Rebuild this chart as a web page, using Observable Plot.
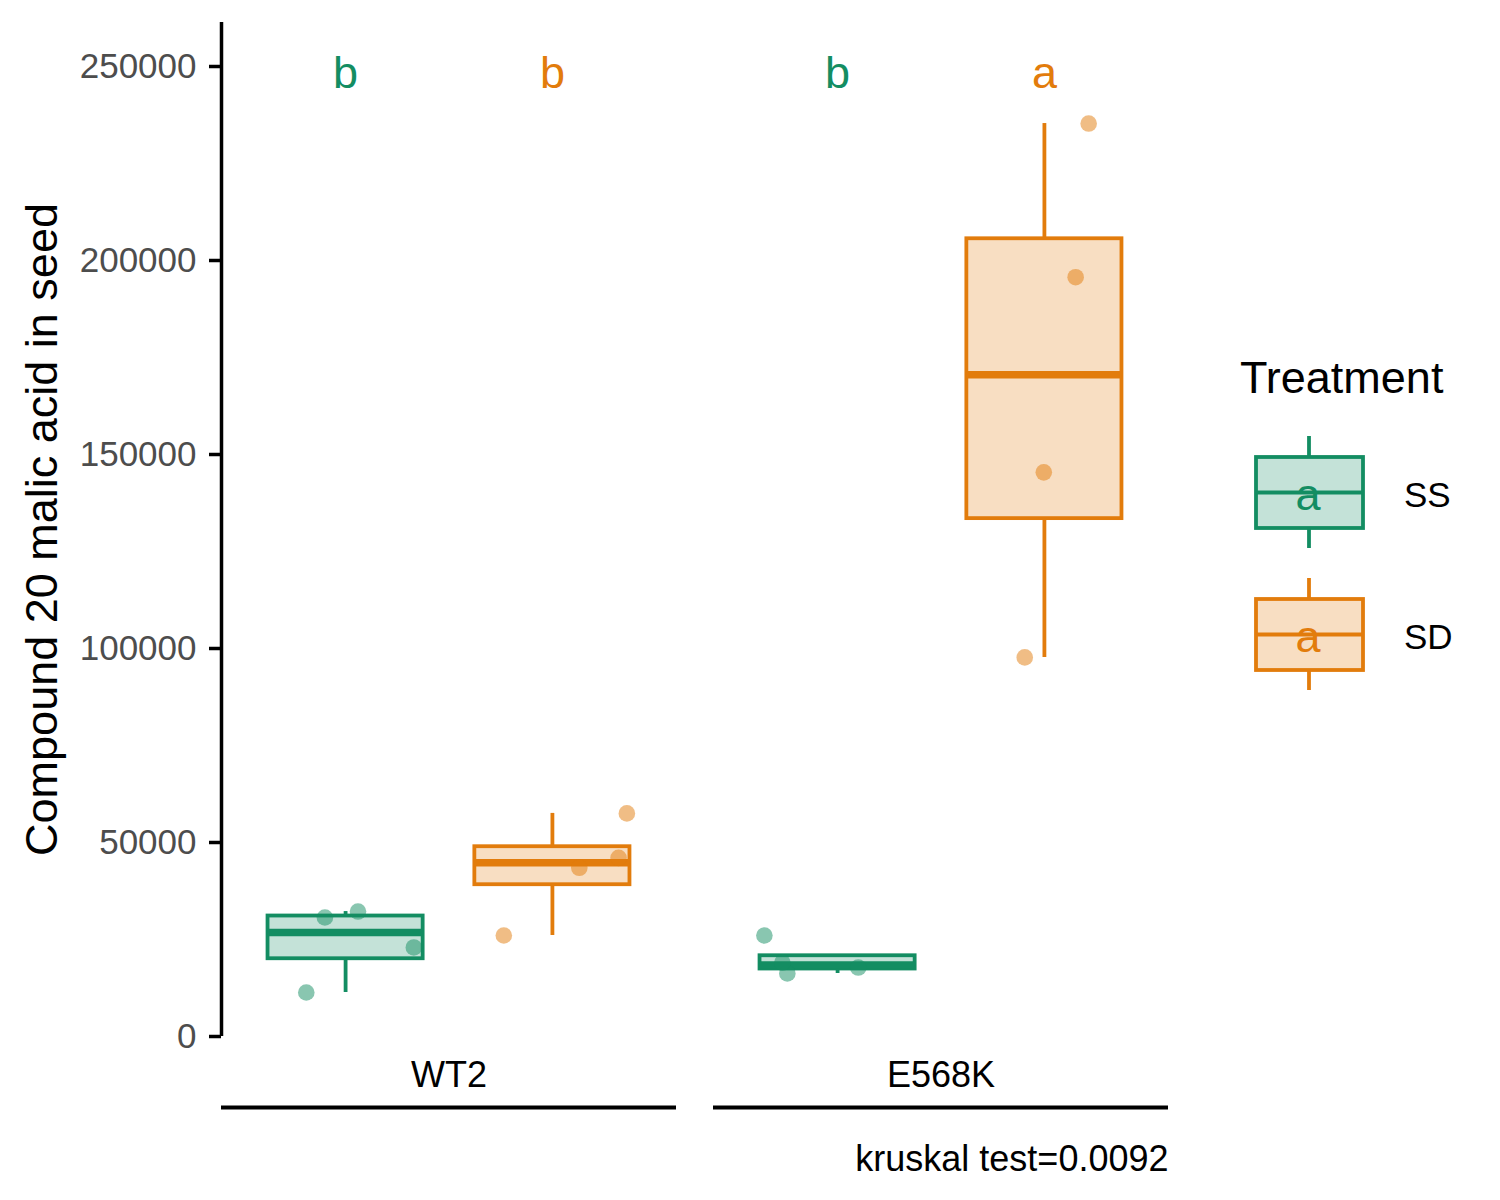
<!DOCTYPE html>
<html>
<head>
<meta charset="utf-8">
<script src="https://cdn.jsdelivr.net/npm/d3@7"></script>
<script src="https://cdn.jsdelivr.net/npm/@observablehq/plot@0.6"></script>
<style>
  html, body { margin: 0; padding: 0; background: white; }
  #wrap { position: relative; width: 1500px; height: 1200px; font-family: "Liberation Sans", Arial, sans-serif; }
  #legend { position: absolute; left: 1220px; top: 340px; }
</style>
</head>
<body>
<div id="wrap"></div>
<script>
// ---- data ----
const genotypes = ["WT2", "E568K"];
const treatments = ["SS", "SD"];
const colors = ["#138D62", "#E27C0C"];
const yTicks = [0, 50000, 100000, 150000, 200000, 250000];
const yTitle = "Compound 20 malic acid in seed";
const legendTitle = "Treatment";
const caption = "kruskal test=0.0092";

// measured values per group
const wt2SS = [11340, 30670, 32200, 22940];
const wt2SD = [26030, 43480, 46050, 57500];
const e568kSS = [26030, 16240, 19070, 17780];
const e568kSD = [235300, 195700, 145400, 97700];
// horizontal jitter of each point (in category units)
const wt2SSJitter = [-0.19, -0.10, 0.06, 0.33];
const wt2SDJitter = [-0.235, 0.13, 0.32, 0.36];
const e568kSSJitter = [-0.354, -0.243, -0.267, 0.10];
const e568kSDJitter = [0.214, 0.151, -0.003, -0.095];

// significance letters
const letterGenotype = ["WT2", "WT2", "E568K", "E568K"];
const letterTreatment = ["SS", "SD", "SS", "SD"];
const letterText = ["b", "b", "b", "a"];
const letterY = 250000;
const legendKeyLetter = "a";

// ---- build tables ----
const groups = [
  {genotype: "WT2", treatment: "SS", values: wt2SS, jitter: wt2SSJitter},
  {genotype: "WT2", treatment: "SD", values: wt2SD, jitter: wt2SDJitter},
  {genotype: "E568K", treatment: "SS", values: e568kSS, jitter: e568kSSJitter},
  {genotype: "E568K", treatment: "SD", values: e568kSD, jitter: e568kSDJitter}
];
const pos = t => treatments.indexOf(t) + 1;
const boxHalf = 0.375;
const xDomain = [0.4, 2.6];

const points = groups.flatMap(g => g.values.map((v, i) => ({
  genotype: g.genotype, treatment: g.treatment, value: v, x: pos(g.treatment) + g.jitter[i]
})));

const stats = groups.map(g => {
  const s = g.values.slice().sort(d3.ascending);
  const q1 = d3.quantile(s, 0.25), med = d3.quantile(s, 0.5), q3 = d3.quantile(s, 0.75);
  const iqr = q3 - q1;
  const lo = d3.min(s.filter(v => v >= q1 - 1.5 * iqr));
  const hi = d3.max(s.filter(v => v <= q3 + 1.5 * iqr));
  return {genotype: g.genotype, treatment: g.treatment, q1, med, q3, lo, hi, x: pos(g.treatment)};
});

const letters = letterText.map((t, i) => ({genotype: letterGenotype[i], treatment: letterTreatment[i], text: t, y: letterY}));

const font = "Liberation Sans, Arial, sans-serif";
const lw = 3.8;

const chart = Plot.plot({
  width: 1500,
  height: 1200,
  marginLeft: 220,
  marginRight: 331,
  marginTop: 22,
  marginBottom: 164,
  style: {fontFamily: font, background: "white", overflow: "visible"},
  fx: {domain: genotypes, paddingInner: 0.075, paddingOuter: 0},
  x: {domain: xDomain, axis: null},
  y: {domain: [0, 261340], axis: null},
  color: {domain: treatments, range: colors},
  marks: [
    // whiskers
    Plot.ruleX(stats, {fx: "genotype", x: "x", y1: "lo", y2: "q1", stroke: "treatment", strokeWidth: lw}),
    Plot.ruleX(stats.filter(d => d.hi > d.q3), {fx: "genotype", x: "x", y1: "q3", y2: "hi", stroke: "treatment", strokeWidth: lw}),
    // boxes
    Plot.rectY(stats, {fx: "genotype", x1: d => d.x - boxHalf, x2: d => d.x + boxHalf, y1: "q1", y2: "q3",
      fill: "treatment", fillOpacity: 0.25, stroke: "treatment", strokeWidth: lw}),
    // medians
    Plot.ruleY(stats, {fx: "genotype", x1: d => d.x - boxHalf, x2: d => d.x + boxHalf, y: "med", stroke: "treatment", strokeWidth: 7.5}),
    // jittered points
    Plot.dot(points, {fx: "genotype", x: "x", y: "value", fill: "treatment", fillOpacity: 0.5, r: 8.3}),
    // letters
    Plot.text(letters, {fx: "genotype", x: d => pos(d.treatment), y: "y", text: "text", fill: "treatment", fontSize: 45, dy: 7}),
    // y axis line
    Plot.ruleX([{genotype: "WT2"}], {fx: "genotype", x: () => xDomain[0], stroke: "black", strokeWidth: 3.5}),
    // y axis ticks and labels
    Plot.axisY(yTicks, {anchor: "left", tickSize: 12, tickPadding: 13, fill: "none", stroke: "black", strokeWidth: 3.5, label: null}),
    Plot.axisY(yTicks, {anchor: "left", tickSize: 12, tickPadding: 13, stroke: "none", fill: "#4D4D4D", fontSize: 35, label: null, tickFormat: d => String(d)}),
    // y title
    Plot.text([{genotype: "WT2"}], {fx: "genotype", text: () => yTitle, frameAnchor: "left", rotate: -90, dx: -165,
      lineAnchor: "bottom", textAnchor: "middle", fontSize: 45, fill: "black"}),
    // facet strip labels and lines
    Plot.axisFx({anchor: "bottom", tickSize: 0, tickPadding: 25, fontSize: 36, label: null, fill: "black"}),
    Plot.ruleY([0], {dy: 71, stroke: "black", strokeWidth: 4}),
    // caption
    Plot.text([{genotype: "E568K"}], {fx: "genotype", text: () => caption, frameAnchor: "bottom-right", dy: 134,
      lineAnchor: "bottom", textAnchor: "end", fontSize: 36, fill: "black"})
  ]
});

const wrap = document.getElementById("wrap");
wrap.appendChild(chart);

// ---- legend ----
const legend = d3.select(wrap).append("svg")
  .attr("id", "legend").attr("width", 280).attr("height", 380)
  .style("font-family", font);
legend.append("text").attr("x", 20).attr("y", 53).attr("font-size", 45).attr("fill", "black").text(legendTitle);
treatments.forEach((t, i) => {
  const c = colors[i];
  const g = legend.append("g").attr("transform", `translate(0, ${i * 142})`);
  g.append("line").attr("x1", 89).attr("x2", 89).attr("y1", 96).attr("y2", 117).attr("stroke", c).attr("stroke-width", lw);
  g.append("line").attr("x1", 89).attr("x2", 89).attr("y1", 188).attr("y2", 208).attr("stroke", c).attr("stroke-width", lw);
  g.append("rect").attr("x", 36).attr("y", 117).attr("width", 107).attr("height", 71)
    .attr("fill", c).attr("fill-opacity", 0.25).attr("stroke", c).attr("stroke-width", lw);
  g.append("line").attr("x1", 36).attr("x2", 143).attr("y1", 152.5).attr("y2", 152.5).attr("stroke", c).attr("stroke-width", lw);
  g.append("text").attr("x", 88).attr("y", 170).attr("text-anchor", "middle").attr("font-size", 45).attr("fill", c).text(legendKeyLetter);
  g.append("text").attr("x", 184).attr("y", 167).attr("font-size", 35).attr("fill", "black").text(t);
});
</script>
</body>
</html>
